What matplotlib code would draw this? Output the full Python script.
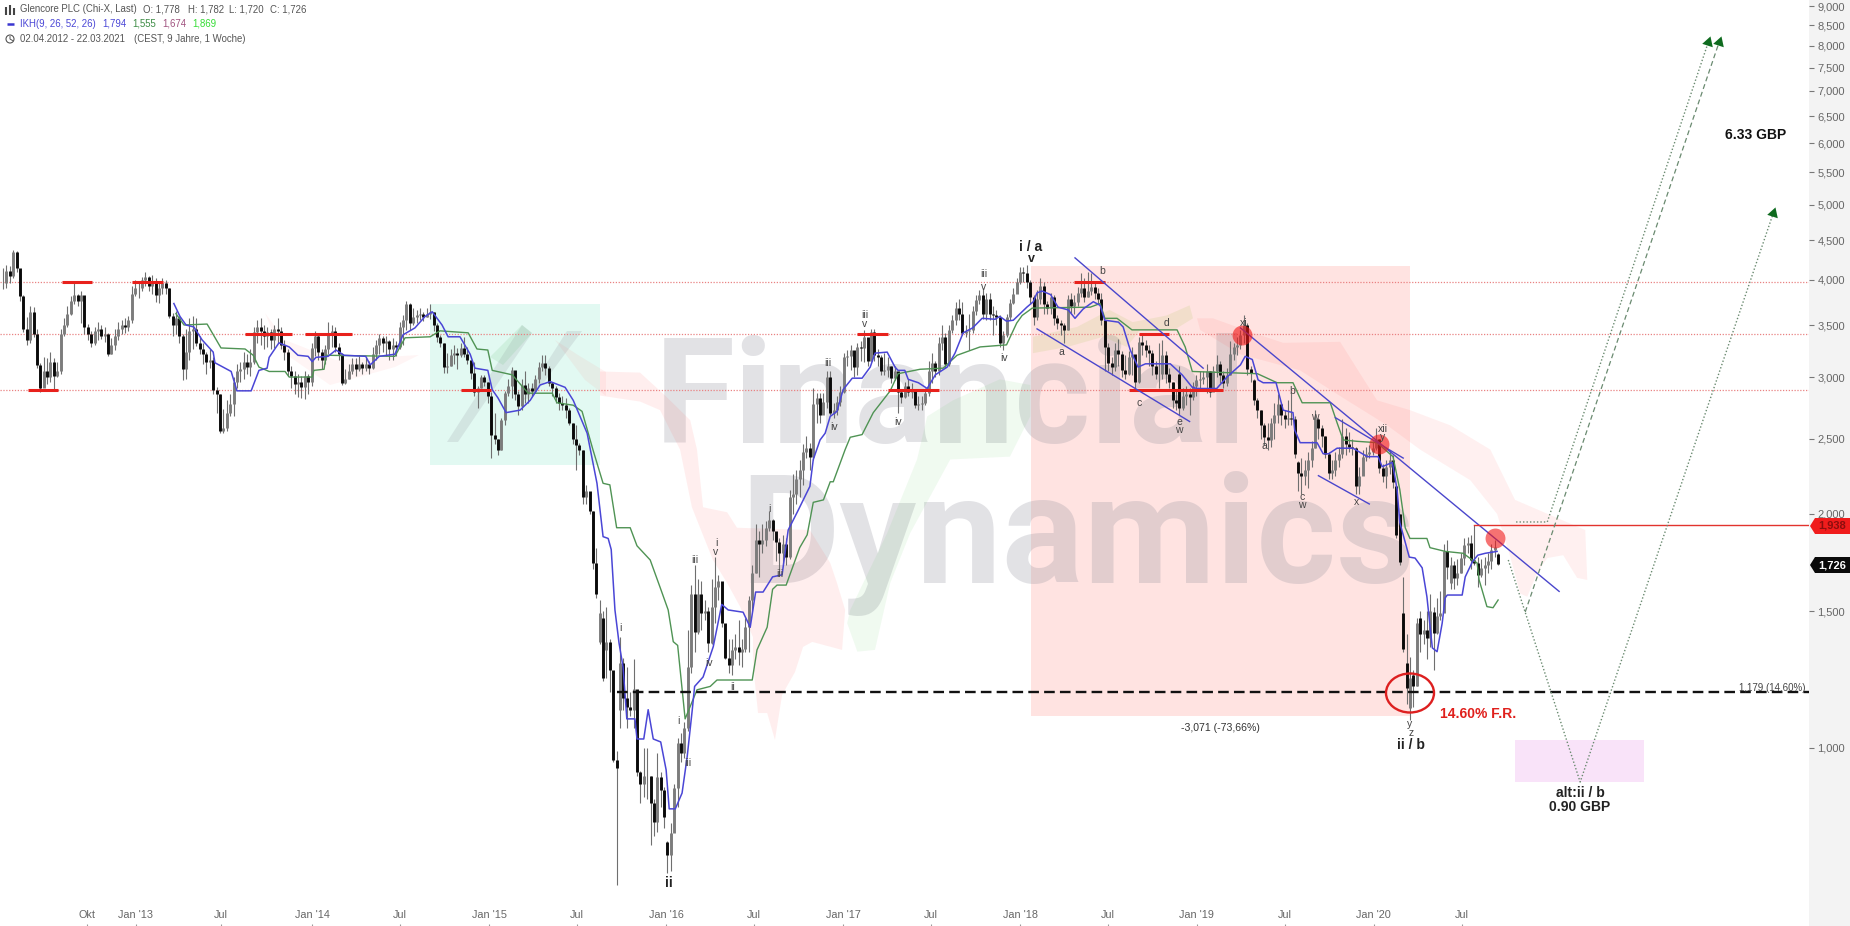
from datetime import date
import matplotlib
matplotlib.use("Agg")
import matplotlib.pyplot as plt
from matplotlib.patches import Polygon, Ellipse, Circle
from matplotlib.transforms import Affine2D

plt.rcParams['font.family'] = ['Liberation Sans', 'DejaVu Sans']

# weekly bars from 02.04.2012, prices in GBP
first_week = date(2012, 4, 2)
closes = [
    3.96, 4.11, 4.05, 4.34, 4.14, 3.81, 3.46, 3.35, 3.64, 3.41,
    3.11, 2.90, 3.05, 3.00, 3.14, 3.01, 3.05, 3.41, 3.50, 3.62,
    3.76, 3.83, 3.76, 3.83, 3.48, 3.41, 3.32, 3.44, 3.46, 3.39,
    3.41, 3.21, 3.30, 3.39, 3.46, 3.50, 3.48, 3.55, 3.84, 3.91,
    3.90, 4.00, 4.04, 3.93, 3.98, 3.83, 3.90, 3.96, 3.91, 3.59,
    3.50, 3.57, 3.39, 3.07, 3.23, 3.44, 3.46, 3.32, 3.26, 3.21,
    3.14, 3.16, 2.89, 2.85, 2.56, 2.58, 2.70, 2.77, 2.96, 3.05,
    3.07, 3.14, 3.09, 3.14, 3.43, 3.48, 3.44, 3.39, 3.43, 3.35,
    3.46, 3.44, 3.30, 3.23, 3.05, 3.01, 2.94, 2.96, 2.91, 3.01,
    2.96, 3.27, 3.39, 3.23, 3.16, 3.26, 3.41, 3.44, 3.28, 3.21,
    2.95, 2.98, 3.05, 3.12, 3.07, 3.12, 3.08, 3.12, 3.08, 3.21,
    3.30, 3.37, 3.32, 3.34, 3.26, 3.30, 3.28, 3.48, 3.55, 3.72,
    3.52, 3.58, 3.60, 3.62, 3.58, 3.62, 3.64, 3.50, 3.38, 3.32,
    3.09, 3.10, 3.20, 3.22, 3.20, 3.27, 3.21, 3.16, 3.04, 2.87,
    2.90, 3.00, 2.96, 2.84, 2.53, 2.50, 2.42, 2.64, 2.86, 2.92,
    3.06, 2.85, 2.75, 2.93, 2.85, 2.90, 2.88, 2.98, 3.09, 3.13,
    3.08, 2.95, 2.90, 2.83, 2.78, 2.76, 2.72, 2.62, 2.50, 2.45,
    2.42, 2.10, 2.14, 2.02, 1.73, 1.58, 1.49, 1.23, 1.37, 1.26,
    0.965, 0.943, 1.286, 1.16, 1.13, 1.12, 1.19, 0.93, 0.90, 0.92,
    0.92, 0.85, 0.803, 0.918, 0.883, 0.815, 0.728, 0.777, 0.888, 1.015,
    0.985, 1.06, 1.27, 1.58, 1.41, 1.58, 1.49, 1.50, 1.365, 1.52,
    1.61, 1.64, 1.45, 1.305, 1.278, 1.337, 1.35, 1.33, 1.34, 1.43,
    1.55, 1.68, 1.85, 1.83, 1.85, 1.92, 1.965, 1.90, 1.84, 1.78,
    1.83, 1.76, 2.10, 2.12, 2.22, 2.28, 2.40, 2.43, 2.37, 2.77,
    2.82, 2.68, 2.79, 3.00, 2.70, 2.72, 2.79, 2.87, 3.18, 3.19,
    3.25, 3.09, 3.28, 3.27, 3.38, 3.15, 3.43, 3.20, 3.18, 3.05,
    3.06, 3.10, 2.99, 3.05, 2.87, 2.83, 2.92, 2.87, 2.88, 2.76,
    2.77, 2.78, 2.86, 3.05, 3.13, 3.05, 3.32, 3.38, 3.12, 3.45,
    3.55, 3.68, 3.62, 3.42, 3.44, 3.45, 3.65, 3.77, 3.82, 3.62,
    3.78, 3.62, 3.60, 3.58, 3.32, 3.40, 3.58, 3.74, 3.84, 3.97,
    4.10, 4.08, 3.97, 3.80, 3.58, 3.78, 3.93, 3.72, 3.68, 3.80,
    3.57, 3.52, 3.50, 3.45, 3.78, 3.70, 3.75, 3.85, 3.90, 3.80,
    3.87, 3.92, 3.85, 3.78, 3.55, 3.28, 3.13, 3.09, 3.25, 3.21,
    3.06, 3.03, 3.18, 3.21, 2.96, 3.33, 3.30, 3.25, 3.22, 3.10,
    3.03, 3.03, 3.20, 3.03, 2.96, 2.80, 2.78, 2.74, 2.84, 2.85,
    2.83, 2.92, 2.97, 2.98, 3.00, 3.05, 2.87, 3.05, 3.12, 3.02,
    2.95, 3.02, 3.21, 3.28, 3.30, 3.40, 3.50, 3.07, 3.04, 2.80,
    2.72, 2.60, 2.51, 2.49, 2.62, 2.68, 2.77, 2.68, 2.65, 2.66,
    2.65, 2.39, 2.26, 2.24, 2.28, 2.35, 2.43, 2.65, 2.58, 2.52,
    2.39, 2.26, 2.28, 2.35, 2.39, 2.52, 2.46, 2.44, 2.43, 2.17,
    2.24, 2.37, 2.39, 2.40, 2.43, 2.50, 2.29, 2.24, 2.30, 2.35,
    2.20, 1.88, 1.735, 1.34, 1.195, 1.23, 1.20, 1.45, 1.40, 1.42,
    1.385, 1.50, 1.405, 1.48, 1.49, 1.79, 1.71, 1.72, 1.655, 1.68,
    1.755, 1.825, 1.835, 1.745, 1.73, 1.67, 1.705, 1.72, 1.74, 1.80,
    1.815, 1.726,
]
highs = [
    4.14, 4.18, 4.17, 4.37, 4.36, 4.11, 3.83, 3.58, 3.70, 3.69,
    3.46, 3.13, 3.18, 3.17, 3.23, 3.17, 3.14, 3.46, 3.57, 3.70,
    3.81, 3.98, 3.84, 3.87, 3.76, 3.51, 3.44, 3.48, 3.53, 3.50,
    3.48, 3.42, 3.37, 3.46, 3.53, 3.55, 3.57, 3.59, 3.93, 4.00,
    3.96, 4.04, 4.09, 4.05, 4.06, 4.02, 3.98, 4.02, 4.00, 3.91,
    3.63, 3.65, 3.59, 3.41, 3.46, 3.57, 3.59, 3.57, 3.39, 3.32,
    3.23, 3.26, 3.18, 2.91, 2.85, 2.73, 2.80, 2.85, 3.00, 3.12,
    3.14, 3.23, 3.21, 3.26, 3.48, 3.55, 3.57, 3.50, 3.48, 3.46,
    3.50, 3.57, 3.48, 3.35, 3.26, 3.10, 3.05, 3.03, 3.01, 3.05,
    3.03, 3.32, 3.44, 3.41, 3.26, 3.30, 3.53, 3.50, 3.48, 3.32,
    3.22, 3.07, 3.12, 3.17, 3.17, 3.19, 3.14, 3.18, 3.15, 3.28,
    3.35, 3.41, 3.39, 3.39, 3.35, 3.37, 3.34, 3.53, 3.60, 3.76,
    3.74, 3.68, 3.66, 3.68, 3.64, 3.68, 3.72, 3.64, 3.52, 3.40,
    3.32, 3.22, 3.26, 3.30, 3.27, 3.32, 3.38, 3.28, 3.16, 3.14,
    2.92, 3.02, 3.02, 2.96, 2.87, 2.70, 2.50, 2.66, 2.88, 2.98,
    3.09, 3.05, 2.88, 2.98, 3.05, 2.95, 2.95, 3.02, 3.14, 3.20,
    3.20, 3.10, 2.96, 2.92, 2.86, 2.84, 2.82, 2.74, 2.62, 2.60,
    2.47, 2.42, 2.18, 2.10, 2.02, 1.81, 1.55, 1.50, 1.52, 1.38,
    1.24, 0.99, 1.39, 1.305, 1.27, 1.18, 1.30, 1.16, 0.935, 1.00,
    1.00, 0.92, 0.86, 0.985, 0.93, 0.89, 0.76, 0.80, 0.90, 1.03,
    1.045, 1.08, 1.42, 1.62, 1.72, 1.65, 1.64, 1.55, 1.52, 1.65,
    1.76, 1.67, 1.62, 1.41, 1.38, 1.38, 1.40, 1.46, 1.38, 1.47,
    1.57, 1.72, 1.94, 1.90, 1.94, 1.96, 2.02, 1.97, 1.88, 1.86,
    1.88, 1.86, 2.15, 2.25, 2.28, 2.35, 2.46, 2.52, 2.47, 2.90,
    2.86, 2.86, 2.86, 3.05, 3.05, 2.78, 2.84, 2.92, 3.22, 3.25,
    3.30, 3.22, 3.32, 3.34, 3.45, 3.36, 3.46, 3.46, 3.26, 3.20,
    3.22, 3.18, 3.10, 3.10, 3.02, 2.89, 2.96, 2.98, 2.95, 2.88,
    2.84, 2.84, 2.90, 3.15, 3.22, 3.15, 3.38, 3.50, 3.42, 3.50,
    3.60, 3.75, 3.78, 3.75, 3.50, 3.62, 3.70, 3.82, 3.88, 3.90,
    3.85, 3.85, 3.70, 3.66, 3.60, 3.44, 3.62, 3.78, 3.90, 4.02,
    4.15, 4.15, 4.18, 4.00, 3.82, 3.88, 4.02, 3.98, 3.76, 3.85,
    3.82, 3.60, 3.55, 3.52, 3.82, 3.85, 3.82, 3.92, 4.08, 4.02,
    4.10, 4.08, 3.98, 3.90, 3.85, 3.55, 3.32, 3.18, 3.32, 3.36,
    3.24, 3.20, 3.24, 3.28, 3.18, 3.38, 3.42, 3.35, 3.30, 3.25,
    3.15, 3.32, 3.35, 3.24, 3.08, 2.96, 2.88, 3.10, 2.90, 2.92,
    2.90, 2.96, 3.02, 3.05, 3.05, 3.12, 3.05, 3.10, 3.20, 3.15,
    3.05, 3.08, 3.34, 3.32, 3.38, 3.45, 3.60, 3.52, 3.10, 2.98,
    2.82, 2.72, 2.62, 2.62, 2.66, 2.78, 2.85, 2.78, 2.72, 2.80,
    2.86, 2.67, 2.34, 2.36, 2.35, 2.40, 2.48, 2.72, 2.66, 2.60,
    2.52, 2.40, 2.35, 2.40, 2.44, 2.65, 2.58, 2.55, 2.50, 2.44,
    2.30, 2.42, 2.44, 2.45, 2.48, 2.58, 2.50, 2.32, 2.35, 2.42,
    2.38, 2.17, 2.00, 1.66, 1.40, 1.31, 1.26, 1.47, 1.50, 1.46,
    1.50, 1.58, 1.52, 1.56, 1.59, 1.83, 1.85, 1.76, 1.74, 1.75,
    1.78, 1.86, 1.87, 1.88, 1.935, 1.76, 1.75, 1.76, 1.78, 1.83,
    1.85, 1.782,
]
lows = [
    3.89, 3.91, 3.96, 4.02, 4.09, 3.76, 3.43, 3.30, 3.32, 3.38,
    3.08, 2.87, 2.92, 2.94, 2.96, 2.89, 3.00, 3.03, 3.39, 3.48,
    3.60, 3.72, 3.70, 3.52, 3.41, 3.35, 3.28, 3.30, 3.35, 3.36,
    3.33, 3.19, 3.21, 3.25, 3.35, 3.41, 3.42, 3.44, 3.52, 3.81,
    3.79, 3.87, 3.93, 3.87, 3.84, 3.75, 3.74, 3.84, 3.84, 3.57,
    3.39, 3.41, 3.32, 2.97, 2.98, 3.16, 3.26, 3.29, 3.21, 3.12,
    3.03, 3.08, 2.85, 2.70, 2.54, 2.54, 2.56, 2.67, 2.67, 2.90,
    2.96, 2.98, 3.03, 3.01, 3.12, 3.32, 3.30, 3.26, 3.28, 3.26,
    3.27, 3.32, 3.26, 3.16, 3.01, 2.90, 2.85, 2.83, 2.82, 2.81,
    2.85, 2.92, 3.19, 3.16, 3.07, 3.12, 3.21, 3.28, 3.23, 3.16,
    2.93, 2.94, 2.98, 3.03, 3.01, 3.05, 3.03, 3.05, 3.03, 3.07,
    3.16, 3.21, 3.23, 3.19, 3.16, 3.16, 3.19, 3.26, 3.30, 3.45,
    3.45, 3.50, 3.52, 3.55, 3.54, 3.58, 3.56, 3.44, 3.33, 3.28,
    3.04, 3.04, 3.10, 3.12, 3.07, 3.18, 3.18, 3.12, 2.98, 2.84,
    2.74, 2.90, 2.92, 2.78, 2.36, 2.46, 2.38, 2.42, 2.60, 2.84,
    2.82, 2.80, 2.68, 2.72, 2.78, 2.78, 2.84, 2.86, 2.95, 3.05,
    3.02, 2.92, 2.84, 2.78, 2.72, 2.72, 2.66, 2.60, 2.46, 2.28,
    2.38, 2.06, 2.06, 2.00, 1.70, 1.56, 1.36, 1.22, 1.23, 1.18,
    0.96, 0.667, 1.06, 1.119, 1.06, 1.10, 1.06, 0.92, 0.85, 0.865,
    0.86, 0.75, 0.77, 0.78, 0.84, 0.79, 0.69, 0.695, 0.79, 0.84,
    0.96, 0.97, 1.05, 1.25, 1.33, 1.40, 1.42, 1.46, 1.33, 1.36,
    1.45, 1.55, 1.43, 1.30, 1.25, 1.24, 1.30, 1.28, 1.27, 1.33,
    1.33, 1.50, 1.68, 1.66, 1.78, 1.82, 1.90, 1.85, 1.74, 1.68,
    1.72, 1.72, 1.75, 2.00, 2.06, 2.10, 2.18, 2.36, 2.28, 2.35,
    2.62, 2.62, 2.72, 2.74, 2.68, 2.66, 2.68, 2.75, 2.86, 3.10,
    3.06, 3.00, 3.02, 3.15, 3.14, 3.10, 3.15, 3.15, 3.10, 3.02,
    3.02, 3.00, 2.95, 2.97, 2.70, 2.78, 2.82, 2.84, 2.82, 2.74,
    2.72, 2.72, 2.76, 2.84, 2.95, 3.00, 3.02, 3.25, 3.08, 3.10,
    3.42, 3.50, 3.55, 3.40, 3.38, 3.25, 3.42, 3.60, 3.72, 3.56,
    3.55, 3.55, 3.40, 3.50, 3.28, 3.25, 3.38, 3.55, 3.72, 3.85,
    3.95, 3.98, 3.90, 3.72, 3.50, 3.55, 3.72, 3.62, 3.62, 3.62,
    3.50, 3.46, 3.40, 3.32, 3.45, 3.62, 3.62, 3.70, 3.80, 3.75,
    3.80, 3.82, 3.78, 3.72, 3.50, 3.05, 3.05, 3.02, 3.05, 3.10,
    3.00, 2.98, 3.02, 3.02, 2.90, 2.95, 3.20, 3.18, 3.10, 3.02,
    2.98, 2.90, 2.98, 2.95, 2.90, 2.74, 2.72, 2.68, 2.72, 2.76,
    2.68, 2.80, 2.84, 2.90, 2.94, 2.86, 2.83, 2.92, 3.00, 2.95,
    2.90, 2.92, 3.02, 3.16, 3.20, 3.26, 3.32, 3.02, 2.96, 2.76,
    2.66, 2.50, 2.45, 2.42, 2.44, 2.50, 2.62, 2.60, 2.58, 2.60,
    2.60, 2.36, 2.14, 2.12, 2.18, 2.16, 2.30, 2.43, 2.50, 2.44,
    2.36, 2.22, 2.22, 2.24, 2.30, 2.36, 2.38, 2.40, 2.38, 2.12,
    2.12, 2.30, 2.34, 2.36, 2.38, 2.42, 2.26, 2.20, 2.16, 2.25,
    2.16, 1.86, 1.72, 1.33, 1.14, 1.087, 1.13, 1.20, 1.33, 1.36,
    1.30, 1.35, 1.26, 1.40, 1.46, 1.55, 1.65, 1.60, 1.60, 1.62,
    1.68, 1.72, 1.78, 1.70, 1.72, 1.61, 1.66, 1.62, 1.68, 1.70,
    1.76, 1.720,
]
# bars that opened away from the previous close
open_gaps = {176: 1.37, 177: 1.47, 178: 1.337, 182: 1.119, 196: 0.757, 347: 3.03,
             369: 2.97, 382: 2.33, 411: 2.17, 412: 2.0, 413: 1.49, 414: 1.286,
             415: 1.125, 416: 1.24, 418: 1.47, 422: 1.495, 426: 1.79, 427: 1.63,
             441: 1.778}

# ichimoku lines, (bar, price)
tenkan_bars = [50.4, 52.2, 54, 56.3, 58.7, 62, 62.5, 67.3, 69, 73.2, 75.5, 77.9, 78.5, 81.4, 84.4, 87, 90,
               91.2, 92.3, 95.9, 98.2, 100.6, 107, 108.3, 111, 115.6, 118, 121.5, 124.5, 126.6, 129.5, 131.3,
               134.8, 137.8, 139.2, 143, 144.3, 146, 148.4, 152.5, 155.5, 158.4, 161.4, 165.8, 168.2, 172.3,
               175.2, 177, 178.5, 179.4, 180.5, 181.7, 182.9, 184, 186.4, 187, 189, 190.3, 191.8, 194, 195.6,
               196.5, 198.3, 200.3, 201.8, 203.3, 204, 206.5, 209.5, 212, 213.9, 218.3, 220.4, 222, 224.2,
               227, 229.8, 231.6, 234.5, 238, 239, 241, 242.5, 244, 246, 247.8, 250.5, 253.4, 255.8, 257.2,
               260.8, 263.1, 264, 266, 267, 270, 272.6, 275, 278.5, 280.8, 283.2, 286, 288.8, 292.6, 294, 296,
               298, 302, 303.9, 305, 306.5, 309, 311.2, 314.2, 316.2, 318.6, 321.6, 323.6, 325, 329, 330.4,
               332.5, 334.8, 337, 344.3, 347.8, 350.8, 352.2, 358, 361, 365, 366.4, 368.5, 370.2, 371.7,
               375.5, 377.6, 380.5, 381, 382.6, 387.6, 389.4, 391, 393.5, 398.2, 402.4, 405.6, 406.8, 409.8,
               411.2, 412, 414.8, 416.5, 418.6, 420, 421.6, 423, 424.5, 425.4, 426, 430.4, 431.3, 433.4, 435,
               437.2, 440.7]
tenkan = [3.73, 3.59, 3.50, 3.48, 3.35, 3.23, 3.13, 3.05, 2.88, 2.88, 3.06, 3.08, 3.18, 3.32, 3.28, 3.20, 3.19,
          3.14, 3.18, 3.19, 3.25, 3.20, 3.19, 3.11, 3.19, 3.21, 3.40, 3.47, 3.59, 3.64, 3.50, 3.38,
          3.38, 3.21, 3.08, 3.06, 2.89, 2.82, 2.70, 2.72, 2.80, 2.93, 2.96, 2.91, 2.80, 2.54,
          2.19, 1.87, 1.86, 1.80, 1.505, 1.365, 1.27, 1.09, 1.09, 1.027, 1.027, 1.12, 1.027, 1.018, 0.937,
          0.835, 0.835, 0.875, 0.974, 1.119, 1.20, 1.234, 1.35, 1.53, 1.505, 1.495, 1.43, 1.587, 1.587,
          1.66, 1.67, 1.907, 2.02, 2.17, 2.35, 2.49, 2.54, 2.67, 2.71, 2.89, 2.99, 2.99, 3.09, 3.22,
          3.23, 3.09, 3.06, 3.06, 2.98, 2.95, 2.90, 3.02, 3.09, 3.22, 3.42, 3.47, 3.57, 3.56, 3.59, 3.54,
          3.55, 3.69, 3.75, 3.85, 3.87, 3.83, 3.69, 3.66, 3.57, 3.67, 3.75, 3.71, 3.55, 3.53, 3.48,
          3.25, 3.09, 3.12, 3.12, 3.02, 2.91, 2.90, 2.90, 3.00, 3.11, 3.19, 3.16, 2.975, 2.95,
          2.95, 2.72, 2.70, 2.565, 2.47, 2.47, 2.39, 2.39, 2.43, 2.43, 2.37, 2.37, 2.30, 2.33,
          2.15, 1.95, 1.76, 1.755, 1.705, 1.565, 1.345, 1.33, 1.447, 1.56, 1.573, 1.573, 1.66, 1.735, 1.77,
          1.78, 1.79]
kijun_bars = [51, 53.4, 60.2, 64.3, 71.4, 73.8, 75.5, 78.5, 83.2, 84.4, 91.2, 91.7, 94.7, 95.3, 115.6, 118.6,
              126, 128.9, 137.2, 139.8, 143, 144.3, 150.2, 154.9, 162, 163.4, 168.2, 170.8, 174, 177, 179, 181,
              185, 187, 190.9, 193.8, 196.2, 197.7, 199, 201.2, 204.7, 208.6, 210.6, 221, 222.4, 225.4, 227,
              228.3, 231, 235, 237.2, 239, 242, 244, 244.9, 248.4, 249.9, 253.4, 256.7, 261.7, 264, 270.5,
              277.3, 281.4, 288.2, 296, 299, 300.6, 303.6, 320.7, 323.6, 325, 328.6, 333, 346.3, 348.7, 350.8,
              370, 375.8, 380.5, 383.2, 391.5, 393.5, 395.3, 399.4, 405.3, 410, 412, 413.6, 415, 420, 420.9,
              425.4, 430.7, 433.4, 434.8, 435.4, 437.7, 439.5, 441]
kijun = [3.62, 3.50, 3.51, 3.27, 3.26, 3.20, 3.09, 3.05, 3.05, 3.00, 3.00, 3.06, 3.07, 3.20, 3.19, 3.37,
         3.38, 3.44, 3.42, 3.26, 3.25, 3.06, 3.02, 2.86, 2.86, 2.78, 2.76, 2.71, 2.42, 2.19, 2.18, 1.92,
         1.92, 1.82, 1.745, 1.61, 1.505, 1.37, 1.355, 1.09, 1.188, 1.20, 1.223, 1.223, 1.337, 1.43, 1.60,
         1.62, 1.62, 1.81, 1.88, 2.07, 2.085, 2.20, 2.20, 2.42, 2.51, 2.53, 2.70, 2.88, 3.03, 3.07,
         3.08, 3.20, 3.28, 3.30, 3.52, 3.60, 3.68, 3.69, 3.73, 3.57, 3.57, 3.45, 3.45, 3.28, 3.05,
         3.03, 2.95, 2.95, 2.78, 2.78, 2.62, 2.49, 2.48, 2.47, 2.37, 2.15, 1.92, 1.86, 1.86, 1.81,
         1.79, 1.78, 1.745, 1.73, 1.645, 1.52, 1.515, 1.55]

# cloud outlines, (bar, price)
red_cloud_a_bars = [176.1, 187.9, 195.3, 202.7, 204.7, 206.5, 213.6, 216.5, 238, 244, 246, 248.4, 247.5, 238.7, 236,
                    233.6, 229.8, 227.7, 225.4, 222.7, 221.8, 221.2, 221.2, 217.4, 213.6, 209.4, 205.6, 203.2,
                    199.7, 193.8, 187.9, 176.1]
red_cloud_a = [3.05, 3.04, 2.84, 2.64, 2.42, 2.04, 2.01, 1.92, 1.907, 1.73, 1.63, 1.505, 1.337, 1.369, 1.349,
               1.252, 1.17, 1.024, 1.109, 1.109, 1.212, 1.31, 1.389, 1.52, 1.63, 1.745, 1.92, 2.04,
               2.42, 2.72, 2.79, 2.84]
green_cloud_bars = [252, 257.2, 261.7, 267.6, 279.4, 297, 303, 303, 294, 280.2, 272.6, 269.6, 260.8, 249.9, 249]
green_cloud = [1.33, 1.337, 1.63, 1.89, 2.35, 2.37, 2.67, 2.93, 2.98, 2.80, 2.67, 2.35, 1.89, 1.505, 1.447]
green_cloud_b_bars = [303.8, 316.8, 326.4, 333.2, 343.2, 350, 351, 345, 335.4, 331.5, 324.5, 314, 303.8]
green_cloud_b = [3.38, 3.48, 3.66, 3.53, 3.60, 3.71, 3.57, 3.44, 3.45, 3.28, 3.38, 3.28, 3.22]
red_cloud_c_bars = [352.2, 356.9, 368.7, 377.6, 394.4, 400.3, 405.3, 415, 426.9, 438.7, 446, 466.7, 467.3, 464.3,
                    460.2, 455.5, 452.5, 449.6, 447.5, 444.6, 440.7, 432.8, 418, 408.3, 395.3, 382.6, 364.9, 353.1]
red_cloud_c = [3.57, 3.57, 3.42, 3.32, 3.33, 3.03, 2.80, 2.72, 2.60, 2.42, 2.085, 1.907, 1.645, 1.655,
               1.77, 1.755, 1.68, 1.565, 1.58, 1.76, 2.00, 2.21, 2.42, 2.60, 2.82, 3.06, 3.21, 3.45]

# drawn levels and annotations
levels = [3.98, 3.41, 2.888]
level_marks = [(7.4, 16.2, 2.888), (17.4, 26.3, 3.98), (38, 47.2, 3.98), (71.4, 85.3, 3.41), (89, 103, 3.41),
               (135, 144, 2.888), (252, 261, 3.41), (261, 276, 2.888), (316, 325, 3.98), (335, 344, 3.41),
               (332, 360, 2.888)]
trend_lines = [((316.2, 354), (4.27, 3.08)), ((305, 350), (3.46, 2.63)), ((365, 459), (3.47, 1.59)),
               ((393, 413), (2.66, 2.36)), ((388, 403), (2.24, 2.06))]
hit_bars = [365.6, 405.8, 440]
hit_prices = [3.40, 2.46, 1.863]
fib_level = 1.179
fib_start = 181
last_high = 1.938
last_high_bar = 434
path_up_bars = [446.3, 455.5, 503]
path_up = [1.953, 1.953, 8.09]
path_dash_bars = [449, 506.2]
path_dash = [1.496, 8.09]
path_alt_bars = [444, 465.2, 522.2]
path_alt = [1.745, 0.904, 4.88]

year_ticks = [(date(2012, 9, 22), "Okt"), (date(2013, 1, 1), "Jan '13"), (date(2013, 6, 26), "Jul"),
              (date(2014, 1, 1), "Jan '14"), (date(2014, 7, 1), "Jul"), (date(2015, 1, 1), "Jan '15"),
              (date(2015, 7, 1), "Jul"), (date(2016, 1, 1), "Jan '16"), (date(2016, 7, 1), "Jul"),
              (date(2017, 1, 1), "Jan '17"), (date(2017, 7, 1), "Jul"), (date(2018, 1, 1), "Jan '18"),
              (date(2018, 7, 1), "Jul"), (date(2019, 1, 1), "Jan '19"), (date(2019, 7, 1), "Jul"),
              (date(2020, 1, 1), "Jan '20"), (date(2020, 7, 1), "Jul")]
price_ticks = [1, 1.5, 2, 2.5, 3, 3.5, 4, 4.5, 5, 5.5, 6, 6.5, 7, 7.5, 8, 8.5, 9]

fig = plt.figure(figsize=(18.5, 9.26), dpi=100, facecolor='#f3f3f3')
ax = fig.add_axes([0, 0, 1809 / 1850, 1], facecolor='white')
px = Affine2D().scale(1 / 1850, -1 / 926).translate(0, 1) + fig.transFigure

ax.set_yscale('log')
ax.set_xlim(-0.885, 532.7)
ax.set_ylim(0.5902, 9.165)
for s in ax.spines.values():
    s.set_visible(False)

# shaded boxes
ax.fill_between([303.2, 415], 1.098, 4.17, color='#ffe3e1', lw=0, zorder=0.5)
ax.fill_between([126, 176], 2.31, 3.73, color='#e2f9f2', lw=0, zorder=0.5)
ax.fill_between([446, 484], 0.904, 1.024, color='#f9e3f9', lw=0, zorder=0.5)

# watermark
wm = dict(transform=px, family='Roboto', weight='bold', color='#8c8c99', alpha=0.25,
          ha='left', va='baseline', zorder=1)
ax.text(655, 443, "Financial", fontsize=105, **wm)
ax.text(740, 583, "Dynamics", fontsize=110, **wm)
logo_grey = [[(447, 442), (458, 442), (532, 333), (522, 325)], [(523, 400), (533, 397), (582, 331), (567, 331)]]
for pts in logo_grey:
    ax.add_patch(Polygon(pts, transform=px, color='#8c8c99', alpha=0.18, lw=0, zorder=1))
ax.add_patch(Polygon([(490, 357), (522, 325), (532, 333), (503, 365)], transform=px, color='#55bb66', alpha=0.13, lw=0, zorder=1))
ax.add_patch(Polygon([(265, 313), (285, 340), (336, 360), (419, 355), (395, 367), (330, 385), (280, 350)],
                     transform=px, color='#ff5555', alpha=0.06, lw=0, zorder=1))
ax.add_patch(Polygon([(555, 340), (578, 355), (606, 372), (606, 396), (585, 380)],
                     transform=px, color='#ff5555', alpha=0.07, lw=0, zorder=1))

# clouds
ax.fill(red_cloud_a_bars, red_cloud_a, color='#ff3030', alpha=0.08, lw=0, zorder=1.1)
ax.fill(red_cloud_c_bars, red_cloud_c, color='#ff3030', alpha=0.07, lw=0, zorder=1.1)
ax.fill(green_cloud_bars, green_cloud, color='#33bb33', alpha=0.07, lw=0, zorder=1.1)
ax.fill(green_cloud_b_bars, green_cloud_b, color='#99bb33', alpha=0.12, lw=0, zorder=1.1)

# levels under the bars
for lvl in levels:
    ax.axhline(lvl, color='#e98282', lw=0.9, ls=(0, (1, 1.3)), zorder=1.5)

# candles
bars = list(range(len(closes)))
opens = [open_gaps.get(i, closes[i - 1] if i else closes[0]) for i in bars]
up = [c >= o for o, c in zip(opens, closes)]
ax.vlines(bars, lows, highs, color='#6f6f6f', lw=0.8, zorder=2)
ax.vlines(bars, opens, closes, colors=['#7c7c7c' if u else '#0a0a0a' for u in up], lw=2.1, zorder=2.1)

# ichimoku
ax.plot(kijun_bars, kijun, color='#4f9354', lw=1.0, zorder=2.5)
ax.plot(tenkan_bars, tenkan, color='#4a46d6', lw=1.1, zorder=2.6)

for x0, x1, lvl in level_marks:
    ax.plot([x0, x1], [lvl, lvl], color='#e8211c', lw=2.2, solid_capstyle='butt', zorder=3)
for xs, ys in trend_lines:
    ax.plot(xs, ys, color='#4a46cc', lw=1.0, zorder=3)
ax.plot([fib_start, 532.7], [fib_level, fib_level], color='#111111', lw=1.7, ls=(0, (4.5, 2.2)), zorder=3)
ax.plot([last_high_bar, 532.7], [last_high, last_high], color='#e2332e', lw=1.0, zorder=3)
ax.scatter(hit_bars, hit_prices, s=205, color='#f01515', alpha=0.6, lw=0, zorder=3.2)
ax.add_patch(Ellipse((1410, 693), 48, 39, transform=px, fill=False, ec='#dd1f1f', lw=1.7, zorder=3.3))

# projections
ax.plot(path_up_bars, path_up, color='#6a8a70', lw=1.0, ls=(0, (1, 1.5)), zorder=3)
ax.plot(path_alt_bars, path_alt, color='#6a8a70', lw=1.0, ls=(0, (1, 1.5)), zorder=3)
ax.plot(path_dash_bars, path_dash, color='#6a8a70', lw=0.9, ls=(0, (4, 2.5)), zorder=3)
ax.scatter([path_up_bars[-1], path_dash_bars[-1], path_alt_bars[-1]], [path_up[-1], path_dash[-1], path_alt[-1]],
           marker=(3, 0, -18), s=85, color='#0f6b1f', lw=0, zorder=3.4)

# axes
ax.yaxis.tick_right()
ax.set_yticks(price_ticks)
ax.set_yticklabels([f"{p:.3f}".replace('.', ',') for p in price_ticks])
ax.minorticks_off()
ax.tick_params(axis='y', which='both', direction='out', length=3.5, width=0.8, color='#777777', pad=2.5,
               labelsize=8, labelcolor='#666666', right=True, left=False)
ax.set_xticks([(d - first_week).days / 7 for d, _ in year_ticks])
ax.set_xticklabels([lab for _, lab in year_ticks])
ax.tick_params(axis='x', direction='in', length=1.5, width=0.8, color='#999999', pad=-11.5, labelsize=7.8,
               labelcolor='#666666')


def label(x, y, s, size=7, color='#444444', weight='normal', ha='center', family=None):
    kw = {'family': family} if family else {}
    ax.text(x, y, s, transform=px, fontsize=size, color=color, weight=weight, ha=ha, va='center',
            zorder=4, clip_on=False, **kw)


# wave counts, small
for x, y, s in [(865, 315, 'iii'), (865, 324, 'v'), (828, 363, 'iii'), (834, 427, 'iv'), (898, 422, 'iv'),
                (620, 628, 'i'), (695, 560, 'iii'), (716, 543, 'i'), (716, 552, 'v'), (769, 509, 'i'),
                (709, 663, 'iv'), (733, 687, 'ii'), (678, 721, 'i'), (688, 763, 'iii'), (780, 574, 'iii'),
                (984, 274, 'iii'), (984, 287, 'v'), (1004, 358, 'iv'),
                (1102, 271, 'b'), (1061, 352, 'a'), (1167, 323, 'd'), (1139, 403, 'c'), (1179, 422, 'e'),
                (1179, 430, 'w'), (1244, 323, 'xi'), (1292, 391, 'b'), (1264, 446, 'a'), (1315, 417, 'w'),
                (1302, 497, 'c'), (1302, 505, 'w'), (1356, 502, 'x'), (1383, 429, 'xii'), (1383, 437, 'y'),
                (1410, 724, 'y'), (1411, 733, 'z')]:
    label(x, y, s, size=7.5)
label(1031, 247, "i / a", size=10, color='#222222', weight='bold')
label(1031, 259, "v", size=9, color='#222222', weight='bold')
label(669, 883, "ii", size=10, color='#222222', weight='bold')
label(1411, 745, "ii / b", size=10, color='#222222', weight='bold')
label(1478, 714, "14.60% F.R.", size=10, color='#e0201c', weight='bold')
label(1580, 793, "alt:ii / b", size=10, color='#222222', weight='bold')
label(1580, 807, "0.90 GBP", size=10, color='#222222', weight='bold')
label(1756, 135, "6.33 GBP", size=10, color='#111111', weight='bold')
label(1772, 688, "1,179 (14,60%)", size=7)
label(1220, 728, "-3,071 (-73,66%)", size=7.6, color='#333333')

# header
label(20, 9.5, "Glencore PLC (Chi-X, Last)", size=6.9, color='#555555', ha='left')
for x, s in [(143, "O: 1,778"), (188, "H: 1,782"), (229, "L: 1,720"), (270, "C: 1,726")]:
    label(x, 9.5, s, size=6.9, color='#555555', ha='left')
for x, s, c in [(20, "IKH(9, 26, 52, 26)", '#4a46d6'), (102, "1,794", '#4a46d6'), (132, "1,555", '#3d8c45'),
                (162, "1,674", '#a0527f'), (192, "1,869", '#35dd35')]:
    label(x, 24, s, size=6.9, color=c, ha='left')
label(20, 38.5, "02.04.2012 - 22.03.2021", size=6.9, color='#555555', ha='left')
label(134, 38.5, "(CEST, 9 Jahre, 1 Woche)", size=6.9, color='#555555', ha='left')
for x, y0, y1 in [(6, 7, 15), (10, 5, 15), (14, 8, 15)]:
    ax.plot([x, x], [y0, y1], transform=px, color='#444444', lw=1.5, solid_capstyle='butt', zorder=4)
ax.plot([7, 14], [24, 24], transform=px, color='#3a36d0', lw=1.8, solid_capstyle='butt', zorder=4)
ax.add_patch(Circle((10, 39), 4, transform=px, fill=False, ec='#555555', lw=0.8, zorder=4))
ax.plot([10, 10, 12.5], [36.5, 39, 40.5], transform=px, color='#555555', lw=0.7, zorder=4)

# price tags on the axis
for y, fc, tc, s in [(526, '#f01c1c', '#8c0e0e', "1,938"), (565, '#0a0a0a', 'white', "1,726")]:
    fig.add_artist(Polygon([(1810, y), (1815, y - 8), (1850, y - 8), (1850, y + 8), (1815, y + 8)],
                           transform=px, facecolor=fc, edgecolor='none', zorder=5))
    fig.text(1832, y, s, transform=px, color=tc, fontsize=8, weight='bold', ha='center', va='center', zorder=6)

fig.savefig('out.png', dpi=100, facecolor=fig.get_facecolor())
